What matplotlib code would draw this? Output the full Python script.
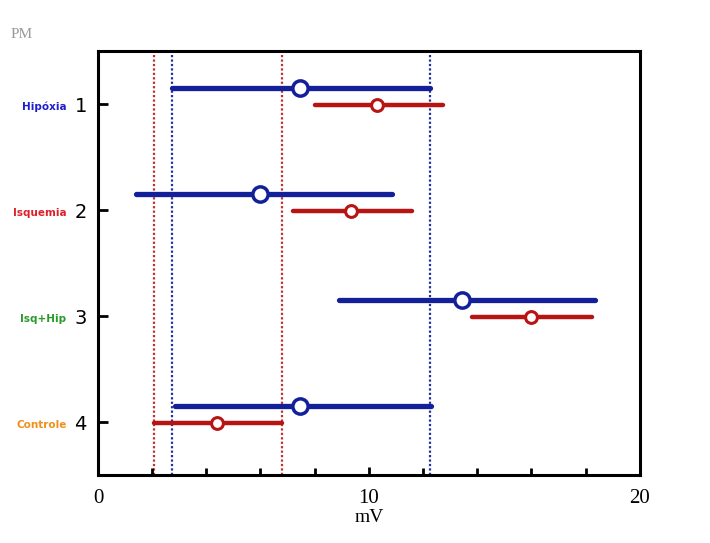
import numpy as np
import matplotlib.pyplot as plt
from matplotlib.transforms import blended_transform_factory

# Data
groups = ["Hipóxia", "Isquemia", "Isq+Hip", "Controle"]
group_colors = ["#1f1fd0", "#e0202a", "#2a9a2a", "#f0901a"]
rows = [1, 2, 3, 4]

blue_lo = [2.75, 1.4, 8.9, 2.85]
blue_hi = [12.25, 10.85, 18.35, 12.3]
blue_mid = [7.45, 6.0, 13.45, 7.45]

red_lo = [8.0, 7.2, 13.8, 2.05]
red_hi = [12.75, 11.6, 18.25, 6.8]
red_mid = [10.3, 9.35, 16.0, 4.4]

ref_red = [2.05, 6.8]
ref_blue = [2.75, 12.25]

blue = "#14209a"
red = "#b81414"

fig = plt.figure(figsize=(7.1, 5.43), dpi=100)
ax = fig.add_axes([0.138, 0.125, 0.763, 0.781])

# reference lines (control)
for v in ref_red:
    ax.axvline(v, color="#c03030", lw=1.6, ls=(0, (1, 1)), zorder=1)
for v in ref_blue:
    ax.axvline(v, color="#2030a0", lw=1.6, ls=(0, (1, 1)), zorder=1)

y = np.array(rows, dtype=float)
yb = y - 0.15
yr = y + 0.01

ax.hlines(yb, blue_lo, blue_hi, color=blue, lw=3.8, capstyle="round", zorder=2)
ax.hlines(yr, red_lo, red_hi, color=red, lw=3.2, capstyle="round", zorder=2)
ax.plot(blue_mid, yb, "o", ms=11, mfc="white", mec=blue, mew=2.5, zorder=3)
ax.plot(red_mid, yr, "o", ms=8.5, mfc="white", mec=red, mew=2.2, zorder=3)

ax.set_xlim(0, 20)
ax.set_ylim(4.5, 0.5)

ax.set_xticks([0, 10, 20])
ax.set_xticklabels(["0", "10", "20"], fontfamily="Liberation Serif", fontsize=15)
ax.set_xticks(np.arange(2, 20, 2), minor=True)
ax.tick_params(axis="x", which="both", direction="in", length=6, width=2, pad=10)
ax.tick_params(axis="x", which="minor", length=5)

ax.set_yticks(rows)
ax.set_yticklabels([str(r) for r in rows], fontsize=14)
ax.tick_params(axis="y", direction="in", length=7, width=2, pad=8)

for s in ax.spines.values():
    s.set_linewidth(2.2)

ax.set_xlabel("mV", fontfamily="Liberation Serif", fontsize=14, labelpad=1)

trans = blended_transform_factory(ax.transAxes, ax.transData)
for r, name, c in zip(rows, groups, group_colors):
    ax.text(-0.058, r + 0.03, name, color=c, fontsize=7.5, fontweight="bold",
            ha="right", va="center", transform=trans)

fig.text(0.015, 0.93, "PM", color="#999999", fontsize=11,
         fontfamily="Liberation Serif")

fig.savefig("out.png", dpi=100)
